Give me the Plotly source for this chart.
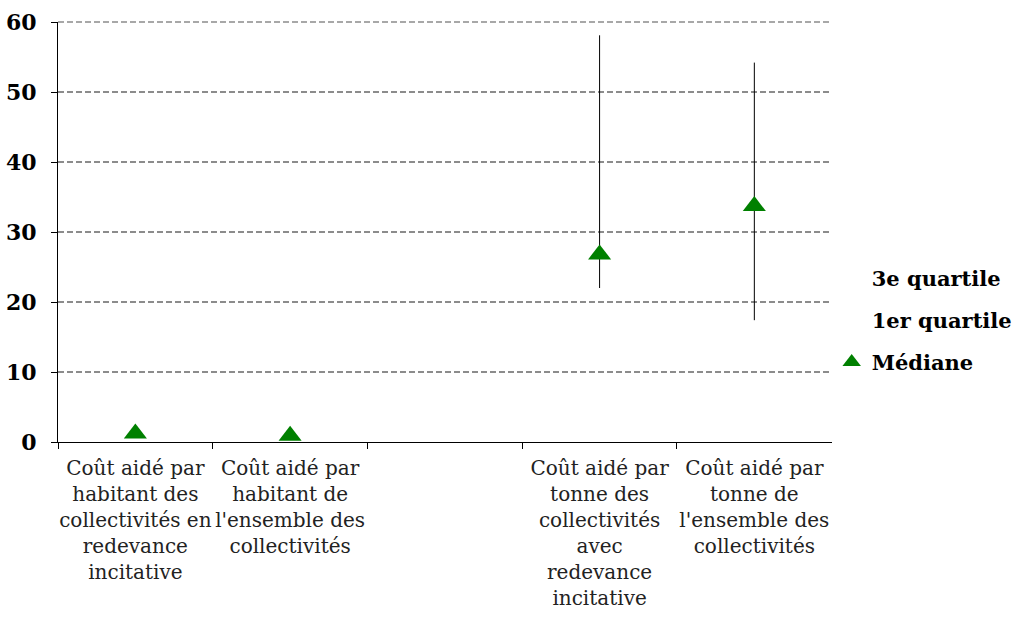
import plotly.graph_objects as go

categories = [
    "Coût aidé par<br>habitant des<br>collectivités en<br>redevance<br>incitative",
    "Coût aidé par<br>habitant de<br>l'ensemble des<br>collectivités",
    " ",
    "Coût aidé par<br>tonne des<br>collectivités<br>avec<br>redevance<br>incitative",
    "Coût aidé par<br>tonne de<br>l'ensemble des<br>collectivités",
]
q3 = [None, None, None, 58.1, 54.2]
q1 = [None, None, None, 22.0, 17.4]
mediane = [1.2, 0.9, None, 26.8, 33.7]

FONT = "DejaVu Serif"

fig = go.Figure()

# high-low lines between quartiles
lx, ly = [], []
for c, lo, hi in zip(categories, q1, q3):
    if lo is not None and hi is not None:
        lx += [c, c, None]
        ly += [lo, hi, None]
fig.add_trace(go.Scatter(x=lx, y=ly, mode="lines", line=dict(color="black", width=1),
                         showlegend=False, hoverinfo="skip"))

fig.add_trace(go.Scatter(x=categories, y=q3, mode="markers", name="3e quartile",
                         legendgroup="a",
                         marker=dict(size=0.1, opacity=0, color="white")))
fig.add_trace(go.Scatter(x=categories, y=q1, mode="markers", name="1er quartile",
                         legendgroup="b",
                         marker=dict(size=0.1, opacity=0, color="white")))
fig.add_trace(go.Scatter(x=categories, y=mediane, mode="markers", name="Médiane",
                         legendgroup="c",
                         marker=dict(symbol="triangle-up", size=20, color="#008000")))

# top gridline (plotly hides the gridline at the range edge)
fig.add_shape(type="line", xref="paper", yref="paper", x0=0, x1=1, y0=1, y1=1,
              line=dict(color="#8c8c8c", width=1.5, dash="6px,3px"), layer="below")

fig.update_layout(
    width=1023, height=621,
    margin=dict(l=58, r=190, t=22, b=179),
    paper_bgcolor="white", plot_bgcolor="white",
    font=dict(family=FONT, size=20, color="black"),
    legend=dict(xref="container", yref="container", x=0.813, y=0.485,
                xanchor="left", yanchor="middle",
                font=dict(family=FONT, size=21, color="black", weight="bold"),
                itemwidth=30, tracegroupgap=12),
    showlegend=True,
)
fig.update_xaxes(type="category", categoryorder="array", categoryarray=categories,
                 range=[-0.5, 4.5], tickangle=0,
                 tickson="boundaries", ticks="outside", ticklen=6, tickcolor="black",
                 showline=True, linecolor="black", linewidth=1, showgrid=False,
                 automargin=False, ticklabelstandoff=8,
                 tickfont=dict(family=FONT, size=20, color="#222222"))
fig.update_yaxes(range=[0, 60], dtick=10, ticks="outside", ticklen=6, tickcolor="black",
                 showline=True, linecolor="black", linewidth=1,
                 showgrid=True, gridcolor="#8c8c8c", griddash="6px,3px", gridwidth=1.5,
                 zeroline=False, automargin=False, ticklabelstandoff=10,
                 tickfont=dict(family=FONT, size=22, color="black", weight="bold"))

fig.write_html("out.html", post_script="document.body.style.margin='0';",
               config={"displayModeBar": False})
